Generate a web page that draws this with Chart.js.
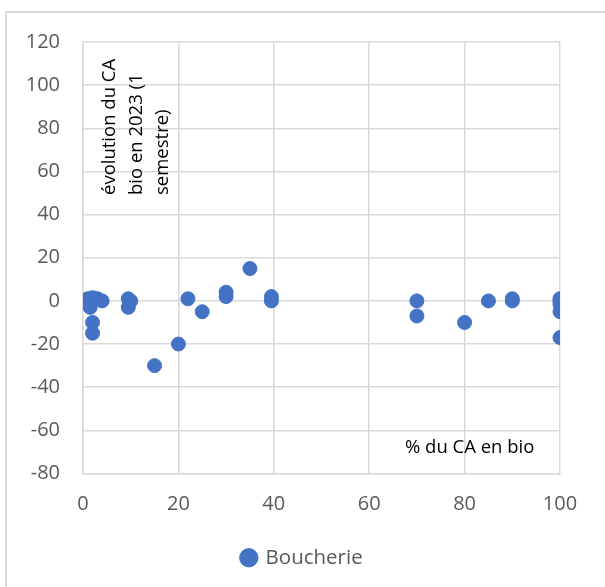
<!DOCTYPE html>
<html>
<head>
<meta charset="utf-8">
<script src="https://cdn.jsdelivr.net/npm/chart.js@4/dist/chart.umd.min.js"></script>
<style>
  html, body { margin: 0; padding: 0; background: #fff; }
  #wrap { position: relative; width: 605px; height: 587px; }
</style>
</head>
<body>
<div id="wrap"><canvas id="scatterChart" width="605" height="587"></canvas></div>
<script>
// % du CA en bio
const pctBio = [0, 1, 2, 3, 4, 1.5, 2, 2, 9.5, 9.5, 10, 15, 20, 22, 25, 30, 30, 35, 39.5, 39.5,
                70, 70, 80, 85, 90, 90, 100, 100, 100, 100, 100];
// évolution du CA bio en 2023 (1 semestre)
const evolution = [0, 1, 1.5, 1, 0, -3, -10, -15, 1, -3, 0, -30, -20, 1, -5, 4, 2, 15, 2, 0,
                   0, -7, -10, 0, 1, 0, 1, 0, -1.5, -5, -17];
const seriesName = 'Boucherie';
const yTitleLines = ['évolution du CA', 'bio en 2023 (1', 'semestre)'];
const xTitle = '% du CA en bio';

const points = pctBio.map(function (x, i) { return { x: x, y: evolution[i] }; });

const gridColor = '#d9d9d9';
const textColor = '#595959';
const fontFamily = '"Open Sans", "Liberation Sans", sans-serif';

// outer frame + axis titles drawn inside the plot
const extras = {
    id: 'extras',
    beforeDraw(chart) {
        const ctx = chart.ctx;
        ctx.save();
        ctx.strokeStyle = gridColor;
        ctx.lineWidth = 2;
        ctx.strokeRect(6, 12, 650, 650);
        ctx.restore();
    },
    afterDatasetsDraw(chart) {
        const ctx = chart.ctx;
        const area = chart.chartArea;
        ctx.save();
        ctx.fillStyle = '#000';
        ctx.font = '18.5px ' + fontFamily;
        ctx.textBaseline = 'middle';
        ctx.textAlign = 'left';
        yTitleLines.forEach(function (line, i) {
            ctx.save();
            ctx.translate(area.left + 27 + i * 26.5, 195);
            ctx.rotate(-Math.PI / 2);
            ctx.fillText(line, 0, 0);
            ctx.restore();
        });
        ctx.fillText(xTitle, 405, 448);
        ctx.restore();
    }
};

const ctx = document.getElementById('scatterChart').getContext('2d');
new Chart(ctx, {
    type: 'scatter',
    data: {
        datasets: [{
            label: seriesName,
            data: points,
            backgroundColor: '#4472C4',
            borderColor: '#4472C4',
            pointRadius: 7,
            pointHoverRadius: 7
        }]
    },
    options: {
        responsive: false,
        animation: false,
        layout: { padding: { top: 42, right: 0, left: 0, bottom: 9 } },
        plugins: {
            legend: {
                position: 'bottom',
                labels: {
                    usePointStyle: true,
                    pointStyle: 'circle',
                    boxWidth: 13,
                    boxHeight: 13,
                    color: textColor,
                    font: { family: fontFamily, size: 20.5 },
                    padding: 9
                }
            },
            tooltip: { enabled: false }
        },
        scales: {
            x: {
                type: 'linear',
                min: 0,
                max: 100,
                ticks: { stepSize: 20, color: textColor, font: { family: fontFamily, size: 20 }, padding: 19 },
                grid: { color: gridColor, lineWidth: 1.5, drawTicks: false },
                border: { color: gridColor, width: 1.5 },
                afterFit(scale) { scale.height = 65; }
            },
            y: {
                type: 'linear',
                min: -80,
                max: 120,
                ticks: { stepSize: 20, color: textColor, font: { family: fontFamily, size: 20 }, padding: 23 },
                grid: { color: gridColor, lineWidth: 1.5, drawTicks: false },
                border: { color: gridColor, width: 1.5 },
                afterFit(scale) { scale.width = 83; }
            },
            // empty right-hand spacer so the legend centres on the full width
            ySpacer: {
                type: 'linear',
                position: 'right',
                min: -80,
                max: 120,
                ticks: { display: false },
                grid: { display: false },
                border: { display: false },
                afterFit(scale) { scale.width = 45; }
            }
        }
    },
    plugins: [extras]
});
</script>
</body>
</html>
